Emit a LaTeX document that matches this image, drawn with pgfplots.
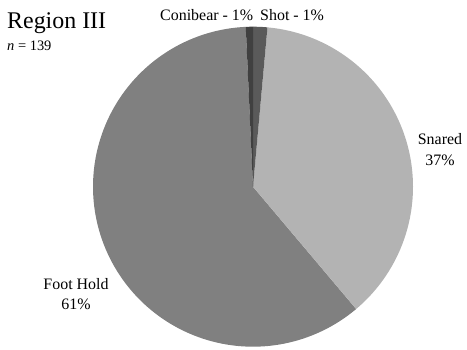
\documentclass[border=0pt]{standalone}
\usepackage{fontspec}
\setmainfont{Liberation Serif}
\usepackage{pgfplots}
\usepackage{pgfplotstable}
\pgfplotsset{compat=1.18}
\definecolor{cConi}{HTML}{404040}
\definecolor{cShot}{HTML}{5A5A5A}
\definecolor{cSnar}{HTML}{B3B3B3}
\definecolor{cFoot}{HTML}{808080}
\pgfplotstableread{
label count
Conibear 1
Shot 2
Snared 52
FootHold 84
}\piedata
\begin{document}
\begin{tikzpicture}
\pgfplotstablegetelem{0}{count}\of\piedata \pgfmathsetmacro\nC{\pgfplotsretval}
\pgfplotstablegetelem{1}{count}\of\piedata \pgfmathsetmacro\nS{\pgfplotsretval}
\pgfplotstablegetelem{2}{count}\of\piedata \pgfmathsetmacro\nN{\pgfplotsretval}
\pgfplotstablegetelem{3}{count}\of\piedata \pgfmathsetmacro\nF{\pgfplotsretval}
\pgfmathsetmacro\tot{\nC+\nS+\nN+\nF}
\pgfmathsetmacro\k{360/\tot}
\pgfmathsetmacro\aS{90-\nS*\k}
\pgfmathsetmacro\aN{\aS-\nN*\k}
\pgfmathsetmacro\aC{90+\nC*\k}
\pgfmathsetmacro\aF{\aN+360}
\begin{axis}[hide axis, scale only axis, width=467bp, height=350bp,
  xmin=0, xmax=467, ymin=0, ymax=350, clip=false]
\path (rel axis cs:0,0) rectangle (rel axis cs:1,1);
\addplot[draw=none, fill=cFoot, domain=\aC:\aF, samples=180]
  ({253+160*cos(x)},{163.3+160*sin(x)}) -- (axis cs:253,163.3) -- cycle;
\addplot[draw=none, fill=cSnar, domain=\aN:\aS, samples=120]
  ({253+160*cos(x)},{163.3+160*sin(x)}) -- (axis cs:253,163.3) -- cycle;
\addplot[draw=none, fill=cShot, domain=\aS:90, samples=10]
  ({253+160*cos(x)},{163.3+160*sin(x)}) -- (axis cs:253,163.3) -- cycle;
\addplot[draw=none, fill=cConi, domain=90:\aC, samples=10]
  ({253+160*cos(x)},{163.3+160*sin(x)}) -- (axis cs:253,163.3) -- cycle;
\node[anchor=base west, inner sep=0pt, font=\fontsize{24}{26}\selectfont] at (axis cs:7,321.7) {Region III};
\node[anchor=base west, inner sep=0pt, font=\fontsize{14.5}{16}\selectfont] at (axis cs:7,299.3) {\textit{n} = 139};
\node[anchor=base west, inner sep=0pt, font=\fontsize{16}{18}\selectfont] at (axis cs:160,330) {Conibear - 1\%};
\node[anchor=base west, inner sep=0pt, font=\fontsize{16}{18}\selectfont] at (axis cs:260,330) {Shot - 1\%};
\node[anchor=base, inner sep=0pt, font=\fontsize{16}{18}\selectfont] at (axis cs:440,206) {Snared};
\node[anchor=base, inner sep=0pt, font=\fontsize{16}{18}\selectfont] at (axis cs:440,185) {37\%};
\node[anchor=base, inner sep=0pt, font=\fontsize{16}{18}\selectfont] at (axis cs:76,61) {Foot Hold};
\node[anchor=base, inner sep=0pt, font=\fontsize{16}{18}\selectfont] at (axis cs:76,40.7) {61\%};
\end{axis}
\end{tikzpicture}
\end{document}
